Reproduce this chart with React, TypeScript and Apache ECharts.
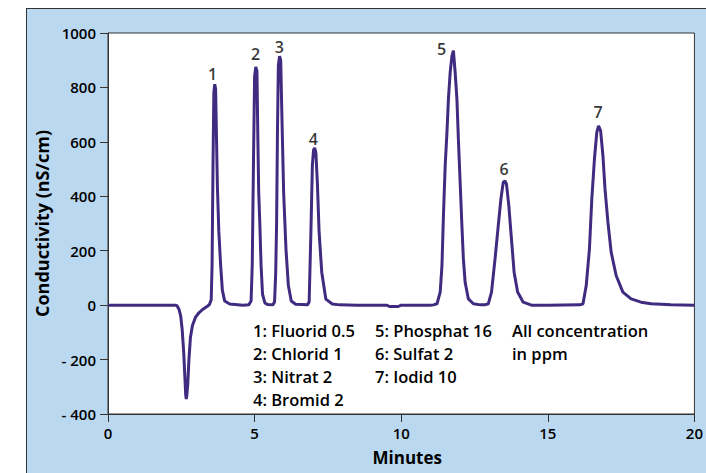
import React, { useEffect, useRef } from "react";
import * as echarts from "echarts";

// Chromatogram trace: [minutes, nS/cm]
const baselineStart: number[][] = [[0, 0], [1.5, 0], [2.3, 0]];
const systemDip: number[][] = [
  [2.36, -3], [2.42, -15], [2.48, -40], [2.53, -90], [2.58, -170], [2.62, -260], [2.65, -330], [2.67, -345],
  [2.69, -330], [2.72, -290], [2.76, -200], [2.81, -120], [2.88, -75], [2.98, -45], [3.1, -28], [3.25, -14], [3.4, -3],
];
const peak1: number[][] = [
  [3.46, 2], [3.52, 20], [3.55, 150], [3.58, 500], [3.61, 780], [3.64, 812], [3.67, 795], [3.7, 620],
  [3.73, 440], [3.78, 270], [3.84, 150], [3.9, 55], [3.98, 15], [4.15, 4], [4.6, 0],
];
const peak2: number[][] = [
  [4.8, 1], [4.88, 15], [4.92, 150], [4.96, 514], [5.0, 840], [5.04, 875], [5.08, 860], [5.11, 620],
  [5.14, 415], [5.18, 293], [5.22, 147], [5.27, 40], [5.35, 8], [5.45, 2],
];
const peak3: number[][] = [
  [5.62, 1], [5.68, 12], [5.72, 120], [5.75, 300], [5.78, 640], [5.81, 880], [5.85, 915], [5.89, 900],
  [5.93, 700], [5.99, 415], [6.07, 206], [6.15, 73], [6.25, 15], [6.4, 3],
];
const peak4: number[][] = [
  [6.8, 1], [6.86, 12], [6.92, 268], [6.97, 514], [7.01, 570], [7.05, 578], [7.09, 560], [7.14, 451],
  [7.2, 268], [7.29, 121], [7.43, 22], [7.65, 4], [7.9, 1],
];
const baselineMid: number[][] = [[8.5, 0], [9.5, 0], [9.6, -5], [9.9, -5], [10.0, 0], [11.0, 0]];
const peak5: number[][] = [
  [11.1, 1], [11.22, 5], [11.33, 48], [11.39, 146], [11.44, 329], [11.5, 513], [11.56, 635], [11.61, 757],
  [11.67, 855], [11.73, 916], [11.78, 935], [11.84, 855], [11.9, 757], [11.95, 610], [12.01, 451],
  [12.07, 292], [12.12, 170], [12.18, 84], [12.29, 23], [12.46, 5], [12.7, 1],
];
const peak6: number[][] = [
  [12.85, 1], [12.97, 5], [13.08, 48], [13.2, 170], [13.31, 292], [13.4, 390], [13.48, 451], [13.54, 457],
  [13.59, 445], [13.67, 366], [13.76, 243], [13.85, 121], [13.97, 48], [14.16, 11], [14.44, 0],
];
const peak7: number[][] = [
  [15.0, 0], [16.1, 1], [16.2, 5], [16.31, 72], [16.42, 207], [16.5, 390], [16.59, 537], [16.67, 635],
  [16.73, 659], [16.8, 641], [16.88, 549], [16.95, 427], [17.05, 305], [17.16, 195], [17.33, 109],
  [17.56, 48], [17.84, 23], [18.18, 11], [18.52, 5], [19.2, 1], [20, 0],
];

// Peak number labels: [minutes, nS/cm, label]
const peakLabels: (number | string)[][] = [
  [3.57, 851, "1"], [5.03, 921, "2"], [5.84, 947, "3"], [7.0, 609, "4"],
  [11.38, 943, "5"], [13.51, 499, "6"], [16.71, 708, "7"],
];

const legendCol1 = ["1: Fluorid 0.5", "2: Chlorid 1", "3: Nitrat 2", "4: Bromid 2"];
const legendCol2 = ["5: Phosphat 16", "6: Sulfat 2", "7: Iodid 10"];
const legendCol3 = ["All concentration", "in ppm"];

const yTicks = { min: -400, max: 1000, interval: 200 };
const xTicks = { min: 0, max: 20, interval: 5 };

const FONT = "Open Sans";

export default function App() {
  const ref = useRef<HTMLDivElement>(null);
  useEffect(() => {
    if (!ref.current) return;
    const chart = echarts.init(ref.current, undefined, { renderer: "svg" });
    const trace = [
      ...baselineStart, ...systemDip, ...peak1, ...peak2, ...peak3, ...peak4,
      ...baselineMid, ...peak5, ...peak6, ...peak7,
    ];
    const textCol = (lines: string[], x: number) =>
      lines.map((t, i) => ({
        type: "text",
        x,
        y: 330 + i * 23.2,
        style: {
          text: t, fontSize: 16.5, fontWeight: 600, fontFamily: FONT, fill: "#000",
          verticalAlign: "middle", align: "left",
        },
      }));
    chart.setOption({
      animation: false,
      backgroundColor: "transparent",
      grid: {
        left: 108, top: 33, right: 9, bottom: 59,
        show: true, backgroundColor: "#ffffff", borderColor: "#333", borderWidth: 1,
      },
      xAxis: {
        type: "value", ...xTicks,
        name: "Minutes", nameLocation: "middle", nameGap: 35,
        nameTextStyle: {
          fontSize: 17, fontWeight: "bold", fontFamily: FONT, color: "#000", padding: [0, 0, 0, 12],
        },
        axisLine: { show: true, onZero: false, lineStyle: { color: "#333", width: 1 } },
        axisTick: { show: true, inside: false, length: 8, lineStyle: { color: "#333" } },
        axisLabel: { fontSize: 15, fontWeight: 600, fontFamily: FONT, color: "#000", margin: 11 },
        splitLine: { show: false },
      },
      yAxis: {
        type: "value", ...yTicks,
        name: "Conductivity (nS/cm)", nameLocation: "middle", nameGap: 53,
        nameTextStyle: { fontSize: 18, fontWeight: "bold", fontFamily: FONT, color: "#000" },
        axisLine: { show: true, onZero: false, lineStyle: { color: "#333", width: 1 } },
        axisTick: { show: true, inside: false, length: 8, lineStyle: { color: "#333" } },
        axisLabel: {
          fontSize: 15, fontWeight: 600, fontFamily: FONT, color: "#000", margin: 12,
          formatter: (v: number) => (v < 0 ? "- " + Math.abs(v) : String(v)),
        },
        splitLine: { show: false },
      },
      series: [
        {
          type: "line",
          data: trace,
          showSymbol: false,
          smooth: false,
          lineStyle: { color: "#3f2b80", width: 3 },
          z: 3,
        },
        {
          type: "scatter",
          data: peakLabels,
          symbolSize: 0,
          label: {
            show: true, position: "inside",
            formatter: (p: any) => p.data[2],
            fontSize: 16, fontWeight: 600, fontFamily: FONT, color: "#000",
          },
          z: 4,
        },
      ],
      graphic: [...textCol(legendCol1, 253), ...textCol(legendCol2, 375), ...textCol(legendCol3, 512)],
    });
    return () => chart.dispose();
  }, []);
  return (
    <div style={{ position: "fixed", left: 0, top: 0, width: 706, height: 473, background: "#fff", overflow: "hidden" }}>
      <div
        style={{
          position: "absolute", left: 26, top: 8, width: 700, height: 500,
          background: "#bad8f0", borderLeft: "1.5px solid #333", borderTop: "1.5px solid #333",
        }}
      />
      <div ref={ref} style={{ position: "absolute", left: 0, top: 0, width: 706, height: 473 }} />
    </div>
  );
}
